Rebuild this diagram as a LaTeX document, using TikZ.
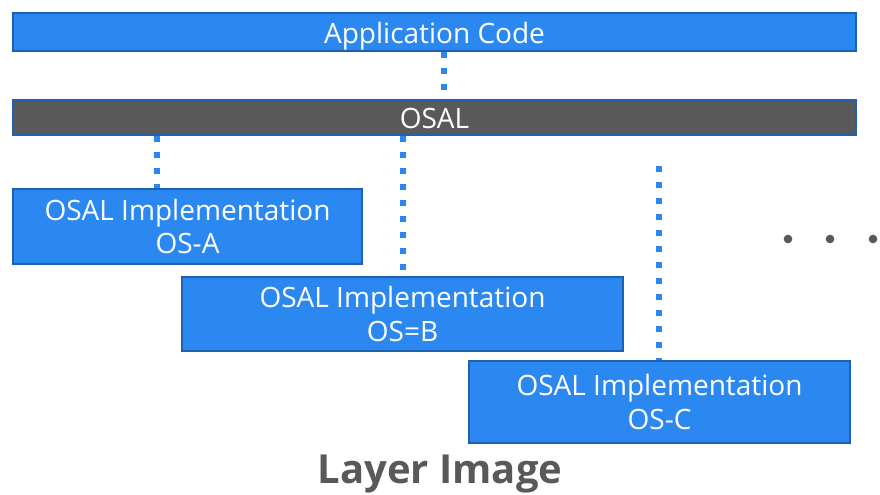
\documentclass[tikz,border=0pt]{standalone}
\usepackage{fontspec}
\setmainfont{Open Sans}
\definecolor{layerblue}{RGB}{43,136,240}
\definecolor{layeredge}{RGB}{32,96,176}
\definecolor{osalgray}{RGB}{89,89,89}
\tikzset{
  px/.style={x=0.75pt,y=-0.75pt},
  layerbox/.style={draw=layeredge,line width=2pt,fill=layerblue,text=white,
    inner sep=0pt,font=\fontsize{21}{25}\selectfont,align=center},
  osalbar/.style={layerbox,fill=osalgray},
  dotlink/.style={draw=layerblue,line width=4.5pt,dash pattern=on 4.5pt off 7.5pt},
  moredot/.style={circle,fill=osalgray,inner sep=0pt,minimum size=6.5pt}
}
% lower a label inside its box without changing the box size
\newcommand{\lowerlabel}[2]{\raisebox{-#1}[\height][\depth]{#2}}
\begin{document}
\begin{tikzpicture}[px]
\useasboundingbox (0,0) rectangle (880,494);
% layers
\node[layerbox,minimum width=843*0.75pt,minimum height=38*0.75pt] (app) at (434.5,32) {\lowerlabel{3.5pt}{Application Code}};
\node[osalbar,minimum width=843*0.75pt,minimum height=35*0.75pt] (osal) at (434.5,117.5) {\lowerlabel{0.8pt}{OSAL}};
\node[layerbox,minimum width=349*0.75pt,minimum height=75*0.75pt] (osa) at (187.5,226.5) {OSAL Implementation\\OS-A};
\node[layerbox,minimum width=441*0.75pt,minimum height=74*0.75pt] (osb) at (402.5,314) {OSAL Implementation\\OS=B};
\node[layerbox,minimum width=381*0.75pt,minimum height=82*0.75pt] (osc) at (659.5,402) {OSAL Implementation\\OS-C};
\coordinate (ctop) at (659,166);
% dotted links
\draw[dotlink] (app.south -| 444,0) -- (osal.north -| 444,0);
\draw[dotlink] (osal.south -| 157,0) -- (osa.north -| 157,0);
\draw[dotlink] (osal.south -| 403,0) -- (osb.north -| 403,0);
\draw[dotlink] (ctop) -- (osc.north -| ctop);
% more platforms
\node[moredot] (d1) at (788,239) {};
\node[moredot] (d2) at (830,239) {};
\node[moredot] (d3) at (873,239) {};
% caption
\node[text=osalgray,font=\fontsize{30}{34}\selectfont\bfseries] (cap) at (440,474) {Layer Image};
\end{tikzpicture}
\end{document}
